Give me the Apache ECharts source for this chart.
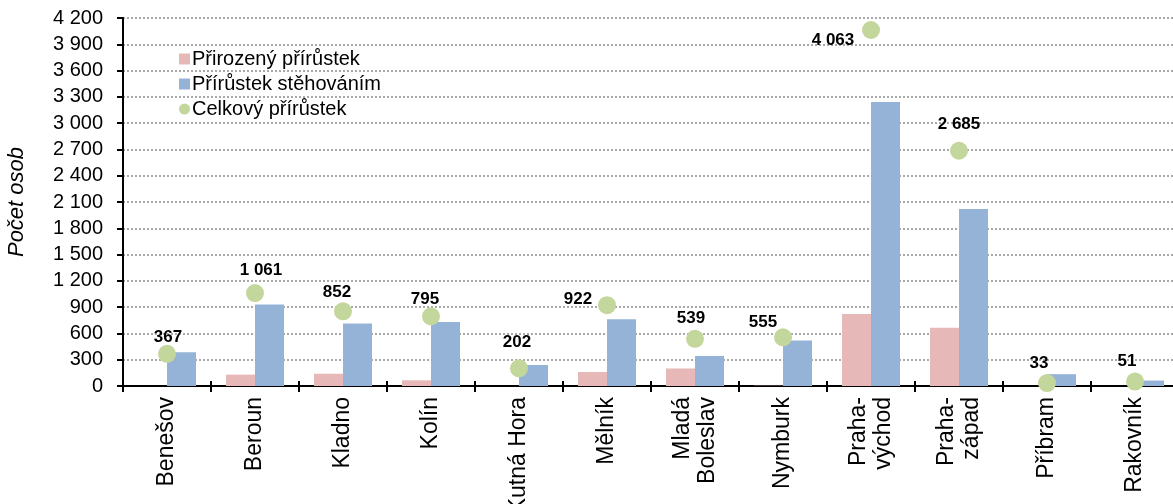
<!DOCTYPE html>
<html>
<head>
<meta charset="utf-8">
<script src="https://cdn.jsdelivr.net/npm/echarts@6/dist/echarts.min.js"></script>
<style>
html,body{margin:0;padding:0;background:#fff;}
#chart{width:1173px;height:504px;}
</style>
</head>
<body>
<div id="chart"></div>
<script>
// ---- data ----
const categories = ['Benešov','Beroun','Kladno','Kolín','Kutná Hora','Mělník','Mladá\nBoleslav','Nymburk','Praha-\nvýchod','Praha-\nzápad','Příbram','Rakovník'];
const naturalIncrease = [-30, 130, 140, 65, -32, 160, 200, 3, 822, 665, -25, -28];
const migrationIncrease = [385, 931, 712, 731, 240, 762, 343, 520, 3241, 2020, 135, 62];
const totalIncrease = [367, 1061, 852, 795, 202, 922, 539, 555, 4063, 2685, 33, 51];
const yTicks = {min: 0, max: 4200, interval: 300};
const seriesNames = ['Přirozený přírůstek', 'Přírůstek stěhováním', 'Celkový přírůstek'];
const yTitle = 'Počet osob';

// label offsets for total-increase labels (styling only)
const labelOffsets = [[1,-17],[6,-23],[-6,-19],[-6,-17],[-2,-26],[-29,-6],[-4,-20],[-20,-15],[-38,10],[0,-26],[-8,-20],[-8,-20]];

const fmt = v => String(v).replace(/\B(?=(\d{3})+(?!\d))/g, ' ');
const FONT = '"Liberation Sans", Arial, sans-serif';

const chart = echarts.init(document.getElementById('chart'), null, {renderer: 'canvas'});
chart.setOption({
  animation: false,
  backgroundColor: '#fff',
  textStyle: {fontFamily: FONT},
  grid: {left: 123, top: 18, bottom: 118, right: -6, containLabel: false, outerBoundsMode: 'none'},
  legend: {
    orient: 'vertical', left: 174, top: 44,
    itemWidth: 11, itemHeight: 11, itemGap: 5,
    textStyle: {fontFamily: FONT, fontSize: 20, color: '#000', lineHeight: 18, padding: [0,0,0,-3]},
    data: [
      {name: seriesNames[0], icon: 'rect'},
      {name: seriesNames[1], icon: 'rect'},
      {name: seriesNames[2], icon: 'circle'}
    ]
  },
  xAxis: [{
    type: 'category', data: categories, boundaryGap: true,
    axisLine: {show: true, onZero: false, lineStyle: {color: '#000', width: 2}},
    axisTick: {show: true, length: 6, lineStyle: {color: '#000', width: 2}},
    axisLabel: {rotate: 90, interval: 0, margin: 11, fontFamily: FONT, fontSize: 23, color: '#000', lineHeight: 25},
    splitLine: {show: false}
  }, {
    type: 'category', data: categories, position: 'top',
    axisLine: {show: true, lineStyle: {color: '#000', width: 1.5}},
    axisTick: {show: false}, axisLabel: {show: false}, splitLine: {show: false}
  }, {
    type: 'category', data: categories, position: 'bottom',
    axisLine: {show: false},
    axisTick: {show: true, inside: true, length: 5, lineStyle: {color: '#000', width: 2}},
    axisLabel: {show: false}, splitLine: {show: false}
  }],
  yAxis: {
    type: 'value', min: yTicks.min, max: yTicks.max, interval: yTicks.interval,
    name: yTitle, nameLocation: 'middle', nameGap: 95, nameRotate: 90,
    nameTextStyle: {fontFamily: FONT, fontSize: 22, fontStyle: 'italic', color: '#000'},
    axisLine: {show: true, lineStyle: {color: '#000', width: 2}},
    axisTick: {show: true, length: 6, lineStyle: {color: '#000', width: 2}},
    axisLabel: {margin: 20, fontFamily: FONT, fontSize: 20, color: '#000', formatter: fmt},
    splitLine: {show: true, lineStyle: {color: '#8c8c8c', type: [2, 2], width: 1.5}}
  },
  series: [
    {
      name: seriesNames[0], type: 'bar', data: naturalIncrease,
      barWidth: 29, barGap: '0%', z: 3,
      itemStyle: {color: '#E6B9B8'}
    },
    {
      name: seriesNames[1], type: 'bar', data: migrationIncrease,
      barWidth: 29, barGap: '0%', z: 3,
      itemStyle: {color: '#95B3D7'}
    },
    {
      name: seriesNames[2], type: 'scatter', symbol: 'circle', symbolSize: 18, z: 5,
      itemStyle: {color: '#C3D69B', opacity: 1},
      data: totalIncrease.map((v, i) => ({
        value: v,
        label: {
          show: true, position: 'inside', offset: labelOffsets[i],
          formatter: p => fmt(p.value),
          fontFamily: FONT, fontSize: 17, fontWeight: 'bold', color: '#000'
        }
      }))
    }
  ]
});
</script>
</body>
</html>
